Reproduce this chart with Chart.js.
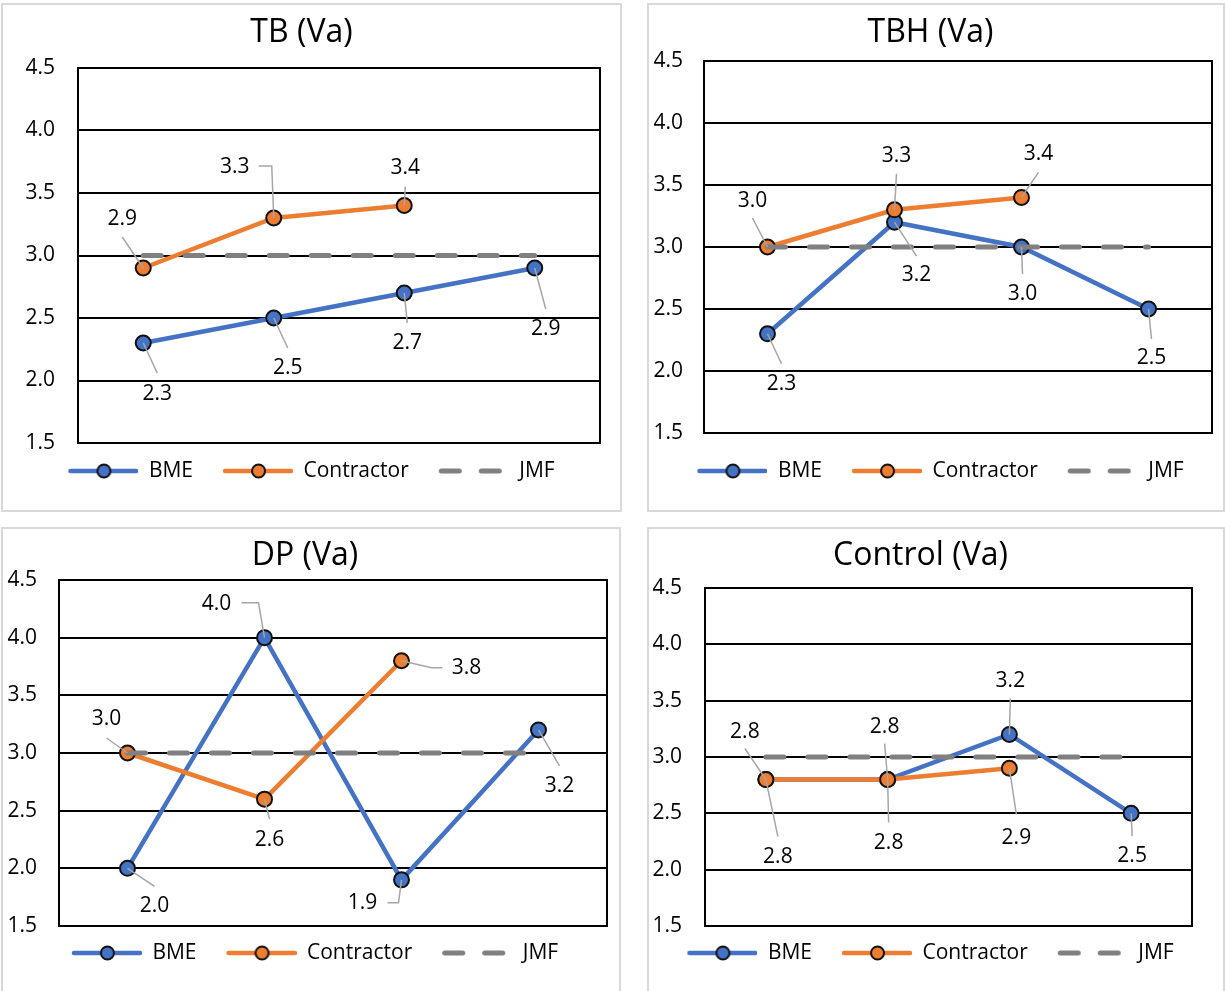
<!DOCTYPE html>
<html lang="en">
<head>
<meta charset="UTF-8" />
<title>Va charts</title>
<script src="https://cdn.jsdelivr.net/npm/chart.js"></script>
<style>
  body {
    margin: 0;
    width: 1225px;
    height: 991px;
    background: #fff;
    position: relative;
    overflow: hidden;
  }
  .panel {
    position: absolute;
    border: 2px solid #d9d9d9;
    box-sizing: border-box;
    background: #fff;
  }
  canvas {
    position: absolute;
  }
</style>
</head>
<body>
<div class="panel" style="left:1px; top:3px; width:621px; height:509px"></div>
<div class="panel" style="left:647px; top:3px; width:578px; height:509px"></div>
<div class="panel" style="left:1px; top:527px; width:620px; height:470px"></div>
<div class="panel" style="left:647px; top:527px; width:578px; height:470px"></div>
<canvas id="tb"></canvas>
<canvas id="tbh"></canvas>
<canvas id="dp"></canvas>
<canvas id="control"></canvas>

<script>
// ---- data ----
const categories = ["1", "2", "3", "4"];
const yTickValues = [1.5, 2.0, 2.5, 3.0, 3.5, 4.0, 4.5];

const tbBME = [2.3, 2.5, 2.7, 2.9];
const tbContractor = [2.9, 3.3, 3.4, null];
const tbJMF = [3.0, 3.0, 3.0, 3.0];

const tbhBME = [2.3, 3.2, 3.0, 2.5];
const tbhContractor = [3.0, 3.3, 3.4, null];
const tbhJMF = [3.0, 3.0, 3.0, 3.0];

const dpBME = [2.0, 4.0, 1.9, 3.2];
const dpContractor = [3.0, 2.6, 3.8, null];
const dpJMF = [3.0, 3.0, 3.0, 3.0];

const ctrlBME = [2.8, 2.8, 3.2, 2.5];
const ctrlContractor = [2.8, 2.8, 2.9, null];
const ctrlJMF = [3.0, 3.0, 3.0, 3.0];

// ---- look ----
const BLUE = "#4472C4";
const ORANGE = "#ED7D31";
const GRAY = "#808080";
const FONT = "'Open Sans', Lato, sans-serif";
const TITLE_SIZE = 32;
const LEGEND_SIZE = 21;
const LEGEND_PAD = 10;

Chart.defaults.font.family = FONT;
Chart.defaults.color = "#000";

// label placement (offsets from the point: text centre t, leader path p)
const tbLabels = [
  [
    { t: [14, 51], p: [[14, 30]] },
    { t: [14, 50], p: [[14, 30]] },
    { t: [3, 50], p: [[3, 30]] },
    { t: [11, 61], p: [[11, 41]] },
  ],
  [
    { t: [-21, -49], p: [[-21, -31]] },
    { t: [-39, -51], p: [[-2, -52], [-15, -52]] },
    { t: [1, -37], p: [[1, -19]] },
  ],
  null,
];
const tbhLabels = [
  [
    { t: [14, 50], p: [[14, 30]] },
    { t: [22, 53], p: [[22, 34]] },
    { t: [1, 47], p: [[1, 27]] },
    { t: [3, 49], p: [[3, 30]] },
  ],
  [
    { t: [-15, -46], p: [[-15, -29]] },
    { t: [2, -54], p: [[2, -36]] },
    { t: [17, -43], p: [[17, -25]] },
  ],
  null,
];
const dpLabels = [
  [
    { t: [27, 38], p: [[27, 18]] },
    { t: [-48, -34], p: [[-6, -35], [-23, -35]] },
    { t: [-39, 23], p: [[-3, 23], [-14, 23]] },
    { t: [21, 56], p: [[21, 36]] },
  ],
  [
    { t: [-21, -34], p: [[-21, -15]] },
    { t: [5, 41], p: [[5, 20]] },
    { t: [65, 7], p: [[30, 7], [41, 7]] },
  ],
  null,
];
const ctrlLabels = [
  [
    { t: [12, 77], p: [[12, 57]] },
    { t: [1, 63], p: [[1, 43]] },
    { t: [1, -53], p: [[1, -36]] },
    { t: [1, 43], p: [[1, 23]] },
  ],
  [
    { t: [-21, -48], p: [[-21, -31]] },
    { t: [-3, -53], p: [[-3, -36]] },
    { t: [7, 70], p: [[7, 46]] },
  ],
  null,
];

// black frame round the plot area
const plotFrame = {
  id: "plotFrame",
  beforeDatasetsDraw(chart) {
    const { ctx, chartArea: a } = chart;
    ctx.save();
    ctx.strokeStyle = "#000";
    ctx.lineWidth = 2;
    ctx.strokeRect(a.left, a.top, a.right - a.left, a.bottom - a.top);
    ctx.restore();
  },
};

// data labels with grey leader lines, like the Excel ones
const leaderLabels = {
  id: "leaderLabels",
  afterDatasetsDraw(chart, args, opts) {
    const ctx = chart.ctx;
    (opts.placements || []).forEach((list, di) => {
      if (!list) return;
      const meta = chart.getDatasetMeta(di);
      const values = chart.data.datasets[di].data;
      list.forEach((pl, i) => {
        const pt = meta.data[i];
        if (!pt || values[i] == null) return;
        ctx.save();
        ctx.strokeStyle = "#a6a6a6";
        ctx.lineWidth = 1.5;
        ctx.beginPath();
        ctx.moveTo(pt.x, pt.y);
        pl.p.forEach(([dx, dy]) => ctx.lineTo(pt.x + dx, pt.y + dy));
        ctx.stroke();
        ctx.fillStyle = "#000";
        ctx.font = "21px " + FONT;
        ctx.textAlign = "center";
        ctx.textBaseline = "middle";
        ctx.fillText(values[i].toFixed(1), pt.x + pl.t[0], pt.y + pl.t[1]);
        ctx.restore();
      });
    });
  },
};

// legend symbols: line with marker, or two dashes
function legendIcon(color, dashed) {
  const c = document.createElement("canvas");
  c.width = 90;
  c.height = 20;
  const g = c.getContext("2d");
  g.strokeStyle = color;
  g.lineCap = "round";
  g.lineWidth = dashed ? 5 : 4.5;
  if (dashed) g.setLineDash([18, 22]);
  g.beginPath();
  g.moveTo(dashed ? 22.5 : 22, 10);
  g.lineTo(dashed ? 90 : 88, 10);
  g.stroke();
  if (!dashed) {
    g.setLineDash([]);
    g.beginPath();
    g.arc(55.5, 10, 6.5, 0, Math.PI * 2);
    g.fillStyle = color;
    g.fill();
    g.lineWidth = 2;
    g.strokeStyle = "#111";
    g.stroke();
  }
  return c;
}
const legendIcons = [legendIcon(BLUE, false), legendIcon(ORANGE, false), legendIcon(GRAY, true)];

function buildChart(id, title, bme, contractor, jmf, placements, lay) {
  const [cx, cy, cw, ch] = lay.canvas;
  const left = lay.area[0] - cx;
  const top = lay.area[1] - cy;
  const right = lay.area[2] - cx;
  const bottom = lay.area[3] - cy;
  const titleH = TITLE_SIZE * 1.2;
  const titlePadTop = lay.titleY - cy - titleH / 2;
  const titlePadBottom = top - titlePadTop - titleH;
  const legendTop = lay.legendY - cy - (LEGEND_PAD + LEGEND_SIZE / 2);
  const legendH = LEGEND_SIZE + LEGEND_PAD + 10;
  const xAxisH = legendTop - bottom;
  const tickPad = left - (lay.tickRight - cx);

  const canvas = document.getElementById(id);
  canvas.width = cw;
  canvas.height = ch;
  canvas.style.left = cx + "px";
  canvas.style.top = cy + "px";

  const marker = (color) => ({
    borderColor: color,
    backgroundColor: color,
    borderWidth: 4.5,
    pointRadius: 7.5,
    pointBackgroundColor: color,
    pointBorderColor: "#111",
    pointBorderWidth: 2,
    tension: 0,
  });

  return new Chart(canvas, {
    type: "line",
    data: {
      labels: categories,
      datasets: [
        { label: "BME", data: bme, order: 2, ...marker(BLUE) },
        { label: "Contractor", data: contractor, order: 1, ...marker(ORANGE) },
        {
          label: "JMF",
          data: jmf,
          order: 0,
          borderColor: GRAY,
          backgroundColor: GRAY,
          borderWidth: 5,
          borderDash: [18, 24],
          borderCapStyle: "round",
          pointRadius: 0,
        },
      ],
    },
    options: {
      responsive: false,
      animation: false,
      layout: { padding: { left: 0, right: cw - right, top: 0, bottom: ch - legendTop - legendH } },
      plugins: {
        title: {
          display: true,
          text: title,
          color: "#000",
          font: { size: TITLE_SIZE, weight: "normal", lineHeight: 1.2 },
          padding: { top: titlePadTop, bottom: titlePadBottom },
        },
        legend: {
          position: "bottom",
          labels: {
            usePointStyle: true,
            pointStyleWidth: 90,
            padding: LEGEND_PAD,
            color: "#000",
            font: { size: LEGEND_SIZE },
            generateLabels: (chart) =>
              chart.data.datasets.map((ds, i) => ({
                text: ds.label,
                pointStyle: legendIcons[i],
                datasetIndex: i,
                hidden: false,
                lineWidth: 0,
                fontColor: "#000",
                fillStyle: "transparent",
                strokeStyle: "transparent",
              })),
          },
        },
        tooltip: { enabled: false },
        leaderLabels: { placements: placements },
      },
      scales: {
        x: {
          offset: true,
          grid: { display: false },
          border: { display: false },
          ticks: { display: false },
          afterFit: (s) => { s.height = xAxisH; },
        },
        y: {
          min: 1.5,
          max: 4.5,
          afterBuildTicks: (s) => { s.ticks = yTickValues.map((v) => ({ value: v })); },
          ticks: {
            padding: tickPad,
            color: "#000",
            font: { size: 21 },
            callback: (v) => Number(v).toFixed(1),
          },
          grid: { color: "#000", lineWidth: 2, drawTicks: false },
          border: { display: false },
          afterFit: (s) => { s.width = left; },
        },
      },
    },
    plugins: [plotFrame, leaderLabels],
  });
}

buildChart("tb", "TB (Va)", tbBME, tbContractor, tbJMF, tbLabels,
  { canvas: [3, 5, 617, 505], area: [78, 68, 600, 443], tickRight: 55, titleY: 33, legendY: 471 });
buildChart("tbh", "TBH (Va)", tbhBME, tbhContractor, tbhJMF, tbhLabels,
  { canvas: [649, 5, 574, 505], area: [704, 61, 1212, 433], tickRight: 683, titleY: 33, legendY: 471 });
buildChart("dp", "DP (Va)", dpBME, dpContractor, dpJMF, dpLabels,
  { canvas: [3, 529, 616, 462], area: [59, 580, 607, 926], tickRight: 37, titleY: 556, legendY: 953 });
buildChart("control", "Control (Va)", ctrlBME, ctrlContractor, ctrlJMF, ctrlLabels,
  { canvas: [649, 529, 574, 462], area: [705, 588, 1192, 926], tickRight: 682, titleY: 556, legendY: 953 });
</script>
</body>
</html>
